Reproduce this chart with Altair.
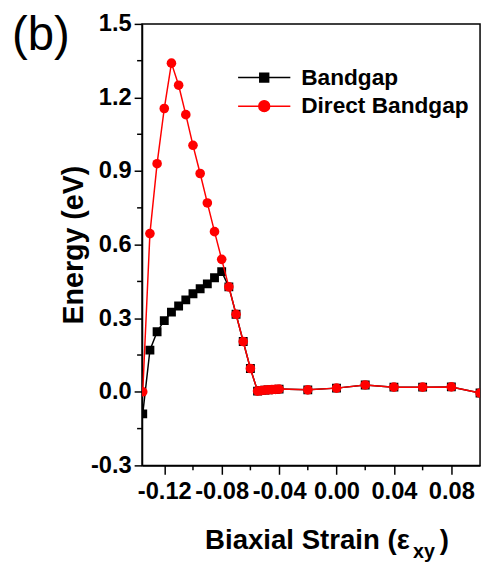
import altair as alt
import pandas as pd

# ---------------- data ----------------
strain = [-0.135, -0.13, -0.125, -0.12, -0.115, -0.11, -0.105, -0.10, -0.095, -0.09, -0.085, -0.08,
          -0.075, -0.07, -0.065, -0.06, -0.055, -0.0525, -0.05, -0.0475, -0.045, -0.0425, -0.04,
          -0.02, 0.0, 0.02, 0.04, 0.06, 0.08, 0.10]
direct_gap = [0.0, 0.645, 0.93, 1.155, 1.34, 1.25, 1.13, 1.005, 0.89, 0.77, 0.653, 0.54,
              0.428, 0.316, 0.205, 0.095, 0.003, 0.005, 0.007, 0.008, 0.009, 0.010, 0.011,
              0.008, 0.015, 0.028, 0.019, 0.019, 0.020, -0.005]
bandgap = [-0.09, 0.17, 0.245, 0.29, 0.325, 0.35, 0.375, 0.40, 0.42, 0.44, 0.465, 0.49,
           0.428, 0.316, 0.205, 0.095, 0.003, 0.005, 0.007, 0.008, 0.009, 0.010, 0.011,
           0.008, 0.015, 0.028, 0.019, 0.019, 0.020, -0.005]
series_names = ["Bandgap", "Direct Bandgap"]
series_colors = ["#000000", "#ff0000"]
x_ticks = [-0.12, -0.08, -0.04, 0.0, 0.04, 0.08]
x_minor = [-0.10, -0.06, -0.02, 0.02, 0.06]
y_ticks = [-0.3, 0.0, 0.3, 0.6, 0.9, 1.2, 1.5]
y_minor = [-0.15, 0.15, 0.45, 0.75, 1.05, 1.35]
panel_label = ["(b)"]
x_title_main = ["Biaxial Strain (\u03b5"]
x_title_sub = ["xy"]
x_title_end = [")"]
y_title = "Energy (eV)"

FONT = "Liberation Sans"
W, H = 343, 448

df = pd.DataFrame({
    "strain": strain * 2,
    "energy": bandgap + direct_gap,
    "series": [series_names[0]] * len(strain) + [series_names[1]] * len(strain),
})

x_scale = alt.Scale(domain=[-0.1355, 0.1], nice=False, zero=False)
y_scale = alt.Scale(domain=[-0.3, 1.5], nice=False, zero=False)
color_scale = alt.Scale(domain=series_names, range=series_colors)

x_axis = alt.Axis(values=x_ticks, format=".2f", labelExpr="replace(datum.label, '\u2212', '-')",
                  title=None, tickSize=9, labelPadding=6, labelFontSize=24, labelFont=FONT,
                  labelFontWeight="bold", labelColor="black", domainColor="black", domainWidth=1.5,
                  tickColor="black", tickWidth=1.5, grid=False, labelOverlap=False,
                  labelFlush=False)
y_axis = alt.Axis(values=y_ticks, format=".1f", labelExpr="replace(datum.label, '\u2212', '-')",
                  title=y_title, titleFont=FONT, titleFontSize=29, titleFontWeight="bold",
                  titleColor="black", titlePadding=2, tickSize=8, labelPadding=3, labelFontSize=24,
                  labelFont=FONT, labelFontWeight="bold", labelColor="black", domainColor="black",
                  domainWidth=1.5, tickColor="black", tickWidth=1.5, grid=False,
                  labelOverlap=False)

sq_path = "M-2.65,0H2.65M-0.45,-0.45H0.45V0.45H-0.45Z"
ci_path = "M-2.65,0H2.65M0.55,0A0.55,0.55,0,1,1,-0.55,0A0.55,0.55,0,1,1,0.55,0"

legend = alt.Legend(
    title=None, orient="none", legendX=112.5, legendY=43,
    labelFont=FONT, labelFontSize=23, labelFontWeight="bold", labelColor="black",
    labelLimit=400,
    symbolSize=400, symbolStrokeWidth=1.5, labelOffset=26, rowPadding=5,
    symbolType=alt.ExprRef(expr="datum.value === 'Bandgap' ? '" + sq_path + "' : '" + ci_path + "'"),
    symbolFillColor=alt.ExprRef(expr="scale('color', datum.value)"),
    symbolStrokeColor=alt.ExprRef(expr="scale('color', datum.value)"),
    symbolOpacity=1,
)

X = alt.X("strain:Q", scale=x_scale, axis=x_axis)
Y = alt.Y("energy:Q", scale=y_scale, axis=y_axis)

base = alt.Chart(df)

line_b = base.transform_filter(alt.datum.series == series_names[0]).mark_line(
    strokeWidth=1.5, clip=True).encode(
    x=X, y=Y, color=alt.Color("series:N", scale=color_scale, legend=legend))
pts_b = base.transform_filter(alt.datum.series == series_names[0]).mark_point(
    shape="square", filled=True, size=81, opacity=1, color=series_colors[0], clip=True).encode(
    x=X, y=Y)
line_d = base.transform_filter(alt.datum.series == series_names[1]).mark_line(
    strokeWidth=1.5, clip=True).encode(
    x=X, y=Y, color=alt.Color("series:N", scale=color_scale, legend=legend))
pts_d = base.transform_filter(alt.datum.series == series_names[1]).mark_point(
    shape="circle", filled=True, size=95, opacity=1, color=series_colors[1], clip=True).encode(
    x=X, y=Y)

xminor = alt.Chart(pd.DataFrame({"strain": x_minor})).mark_rule(color="black", strokeWidth=1.5).encode(
    x=X, y=alt.value(H), y2=alt.value(H + 5))
yminor = alt.Chart(pd.DataFrame({"energy": y_minor})).mark_rule(color="black", strokeWidth=1.5).encode(
    y=Y, x=alt.value(-5), x2=alt.value(0))

lbl = alt.Chart(pd.DataFrame({"t": panel_label})).mark_text(
    font=FONT, fontSize=48, align="left", baseline="alphabetic", color="black").encode(
    x=alt.value(-132), y=alt.value(26), text="t:N")
xt1 = alt.Chart(pd.DataFrame({"t": x_title_main})).mark_text(
    font=FONT, fontSize=28, fontWeight="bold", align="left", baseline="alphabetic", color="black").encode(
    x=alt.value(64), y=alt.value(533), text="t:N")
xt2 = alt.Chart(pd.DataFrame({"t": x_title_sub})).mark_text(
    font=FONT, fontSize=20, fontWeight="bold", align="left", baseline="alphabetic", color="black").encode(
    x=alt.value(275), y=alt.value(542), text="t:N")
xt3 = alt.Chart(pd.DataFrame({"t": x_title_end})).mark_text(
    font=FONT, fontSize=28, fontWeight="bold", align="left", baseline="alphabetic", color="black").encode(
    x=alt.value(302), y=alt.value(533), text="t:N")

chart = alt.layer(line_b, pts_b, line_d, pts_d, xminor, yminor, lbl, xt1, xt2, xt3).properties(
    width=W, height=H,
    padding={"left": 136, "top": 12, "right": 3, "bottom": 101},
    autosize=alt.AutoSizeParams(type="none"),
).configure_view(stroke="black", strokeWidth=1.5)

chart.save("out.html", embed_options={"renderer": "svg", "actions": False})
